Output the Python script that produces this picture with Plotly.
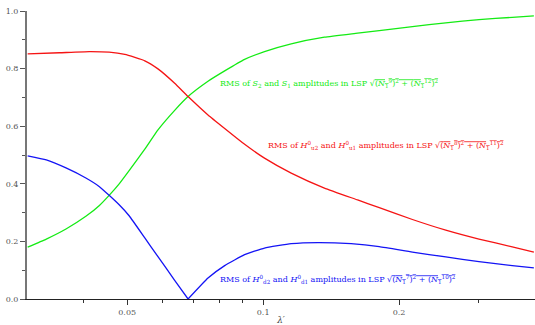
import math
import plotly.graph_objects as go

# ---- data ----
red_x = [0.0301, 0.0354, 0.0412, 0.0456, 0.0494, 0.0547, 0.0585, 0.0637, 0.0682,
         0.0755, 0.0822, 0.0910, 0.1007, 0.1154, 0.1367, 0.1619, 0.1808, 0.2141,
         0.2538, 0.3006, 0.3562, 0.3977]
red_y = [0.851, 0.855, 0.859, 0.857, 0.849, 0.827, 0.799, 0.749, 0.703,
         0.639, 0.592, 0.537, 0.489, 0.437, 0.385, 0.344, 0.317, 0.276,
         0.239, 0.208, 0.181, 0.163]

green_x = [0.0301, 0.0331, 0.0366, 0.0405, 0.0434, 0.0456, 0.0480, 0.0505, 0.0547,
           0.0585, 0.0637, 0.0682, 0.0755, 0.0822, 0.0910, 0.1007, 0.1154, 0.1367,
           0.1619, 0.1808, 0.2141, 0.2538, 0.3006, 0.3562, 0.3977]
green_y = [0.180, 0.208, 0.243, 0.287, 0.325, 0.360, 0.400, 0.446, 0.520,
           0.587, 0.655, 0.703, 0.756, 0.792, 0.832, 0.859, 0.886, 0.909,
           0.923, 0.932, 0.946, 0.959, 0.970, 0.978, 0.983]

blue_x = [0.0301, 0.0331, 0.0366, 0.0405, 0.0434, 0.0456, 0.0480, 0.0505, 0.0547,
          0.0585, 0.0637, 0.0682, 0.0755, 0.0822, 0.0910, 0.1007, 0.1154, 0.1321,
          0.1566, 0.1808, 0.2141, 0.2538, 0.3006, 0.3562, 0.3977]
blue_y = [0.497, 0.483, 0.455, 0.420, 0.390, 0.360, 0.327, 0.289, 0.212,
          0.147, 0.065, 0.000, 0.073, 0.116, 0.154, 0.177, 0.192, 0.196,
          0.192, 0.182, 0.163, 0.146, 0.130, 0.116, 0.108]
blue_tip = 11  # index of the zero crossing

x_ticks = [0.05, 0.1, 0.2]
x_ticktext = ["0.05", "0.1", "0.2"]
x_minor = [0.04, 0.06, 0.07, 0.08, 0.09, 0.3]
y_ticks = [0.0, 0.2, 0.4, 0.6, 0.8, 1.0]

GREEN = "rgb(20,235,20)"
RED = "rgb(245,20,20)"
BLUE = "rgb(20,20,245)"
FONT = "DejaVu Serif"

fig = go.Figure()
fig.add_trace(go.Scatter(x=green_x, y=green_y, mode="lines",
                         line=dict(color=GREEN, width=1.3, shape="spline", smoothing=0.4)))
fig.add_trace(go.Scatter(x=red_x, y=red_y, mode="lines",
                         line=dict(color=RED, width=1.3, shape="spline", smoothing=0.4)))
fig.add_trace(go.Scatter(x=blue_x[:blue_tip + 1], y=blue_y[:blue_tip + 1], mode="lines",
                         line=dict(color=BLUE, width=1.3, shape="spline", smoothing=0.4)))
fig.add_trace(go.Scatter(x=blue_x[blue_tip:], y=blue_y[blue_tip:], mode="lines",
                         line=dict(color=BLUE, width=1.3, shape="spline", smoothing=0.4)))

def sq(inner):
    return "√<span style='text-decoration:overline'>" + inner + "</span>"

ann = [
    (0.0794, 0.749, GREEN,
     "RMS of <i>S</i><sub>2</sub> and <i>S</i><sub>1</sub> amplitudes in LSP "
     + sq("(<i>N</i><sub>1</sub><sup>9</sup>)<sup>2</sup> + (<i>N</i><sub>1</sub><sup>12</sup>)<sup>2</sup>")),
    (0.1016, 0.532, RED,
     "RMS of <i>H</i><sup>0</sup><sub>u2</sub> and <i>H</i><sup>0</sup><sub>u1</sub> amplitudes in LSP "
     + sq("(<i>N</i><sub>1</sub><sup>8</sup>)<sup>2</sup> + (<i>N</i><sub>1</sub><sup>11</sup>)<sup>2</sup>")),
    (0.0794, 0.067, BLUE,
     "RMS of <i>H</i><sup>0</sup><sub>d2</sub> and <i>H</i><sup>0</sup><sub>d1</sub> amplitudes in LSP "
     + sq("(<i>N</i><sub>1</sub><sup>7</sup>)<sup>2</sup> + (<i>N</i><sub>1</sub><sup>10</sup>)<sup>2</sup>")),
]
for x, y, c, t in ann:
    fig.add_annotation(x=math.log10(x), y=y, xref="x", yref="y", text=t, showarrow=False,
                       xanchor="left", yanchor="middle",
                       font=dict(family=FONT, size=8, color=c))

fig.update_layout(
    width=535, height=325,
    margin=dict(l=27, r=0, t=11, b=26),
    paper_bgcolor="white", plot_bgcolor="white",
    showlegend=False,
    font=dict(family=FONT, size=8, color="#555"),
    xaxis=dict(type="log", range=[math.log10(0.03), math.log10(0.4)],
               tickmode="array", tickvals=x_ticks, ticktext=x_ticktext,
               ticks="outside", ticklen=5, tickwidth=1, tickcolor="#333",
               showline=True, linecolor="#222", linewidth=1.2,
               showgrid=False, zeroline=False,
               minor=dict(tickmode="array", tickvals=x_minor, ticks="outside",
                          ticklen=3, tickcolor="#333", showgrid=False),
               title=dict(text="<i>λ′</i>", standoff=2, font=dict(family=FONT, size=9, color="#444")),
               tickfont=dict(family=FONT, size=8, color="#555")),
    yaxis=dict(range=[0, 1], tickmode="array", tickvals=y_ticks,
               tickformat=".1f",
               ticks="outside", ticklen=5, tickwidth=1, tickcolor="#555",
               showline=True, linecolor="#777", linewidth=2,
               showgrid=False, zeroline=False,
               minor=dict(dtick=0.1, ticks="outside", ticklen=3, tickcolor="#555", showgrid=False),
               tickfont=dict(family=FONT, size=8, color="#555")),
)

fig.write_html("out.html")
